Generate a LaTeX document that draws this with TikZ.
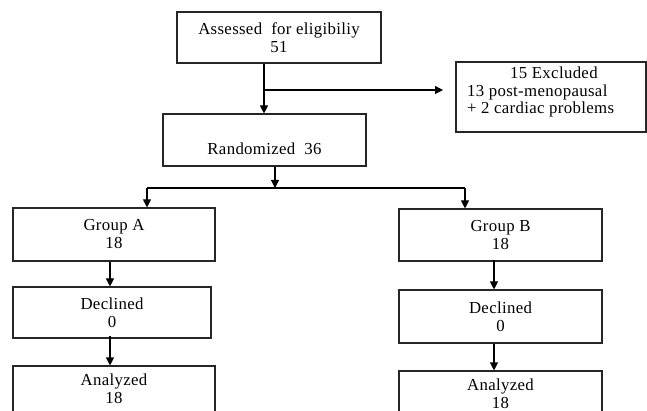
\documentclass[tikz,border=0pt]{standalone}
\usepackage{fontspec}
\setmainfont[LetterSpace=2]{Liberation Serif}
\usetikzlibrary{arrows.meta}
\begin{document}
\begin{tikzpicture}[x=1pt,y=-1pt,
  box/.style={draw=black!85,line width=1.1pt,rectangle,inner sep=0pt,align=center,
    font=\fontsize{16.8}{18}\selectfont},
  txt/.style={inner sep=0pt,font=\fontsize{16.8}{17.5}\selectfont},
  arr/.style={line width=1.1pt,-{Triangle[length=8pt,width=8pt]}},
  ln/.style={line width=1.1pt}]
\useasboundingbox (0,0) rectangle (647,411);
% boxes
\node[box,minimum width=204pt,minimum height=51pt] (assess) at (279,37.5) {Assessed\ \ for eligibiliy\\51};
\node[box,minimum width=203pt,minimum height=52pt] (rand) at (264.5,140) {};
\node[txt] (randtxt) at (264.5,149) {Randomized\ \ 36};
\node[box,minimum width=190pt,minimum height=70pt] (excl) at (551,97) {};
\node[txt,anchor=west,align=left] (excltxt) at (467,92) {\hspace*{43pt}15 Excluded\\13 post-menopausal\\+ 2 cardiac problems};
\node[box,minimum width=202pt,minimum height=53pt] (gA) at (114,234.5) {Group A\\18};
\node[box,minimum width=198pt,minimum height=51pt] (dA) at (112,312.5) {Declined\\0};
\node[box,minimum width=202pt,minimum height=46pt] (aA) at (114,389) {Analyzed\\18};
\node[box,minimum width=203pt,minimum height=52pt] (gB) at (500.5,235) {Group B\\18};
\node[box,minimum width=203pt,minimum height=53pt] (dB) at (500.5,316.5) {Declined\\0};
\node[box,minimum width=203pt,minimum height=46pt] (aB) at (500.5,394) {Analyzed\\18};
% coordinates
\coordinate (br) at (264,90);
\coordinate (exclin) at (443,90);
\coordinate (split) at (275,188);
\coordinate (sl) at (147,188);
\coordinate (sr) at (465,188);
% connectors
\draw[arr] (assess.south -| br) -- (rand.north -| br);
\draw[arr] (br) -- (exclin);
\draw[arr] (rand.south -| split) -- (split);
\draw[ln] (sl) -- (sr);
\draw[arr] (sl) -- (gA.north -| sl);
\draw[arr] (sr) -- (gB.north -| sr);
\draw[arr] ([xshift=-4pt]gA.south) -- ([xshift=-2pt]dA.north);
\draw[arr] ([yshift=3pt]dA.south -| 110,0) -- (aA.north -| 110,0);
\draw[arr] ([yshift=2pt]gB.south -| 494,0) -- (dB.north -| 494,0);
\draw[arr] (dB.south -| 494,0) -- (aB.north -| 494,0);
\end{tikzpicture}
\end{document}
